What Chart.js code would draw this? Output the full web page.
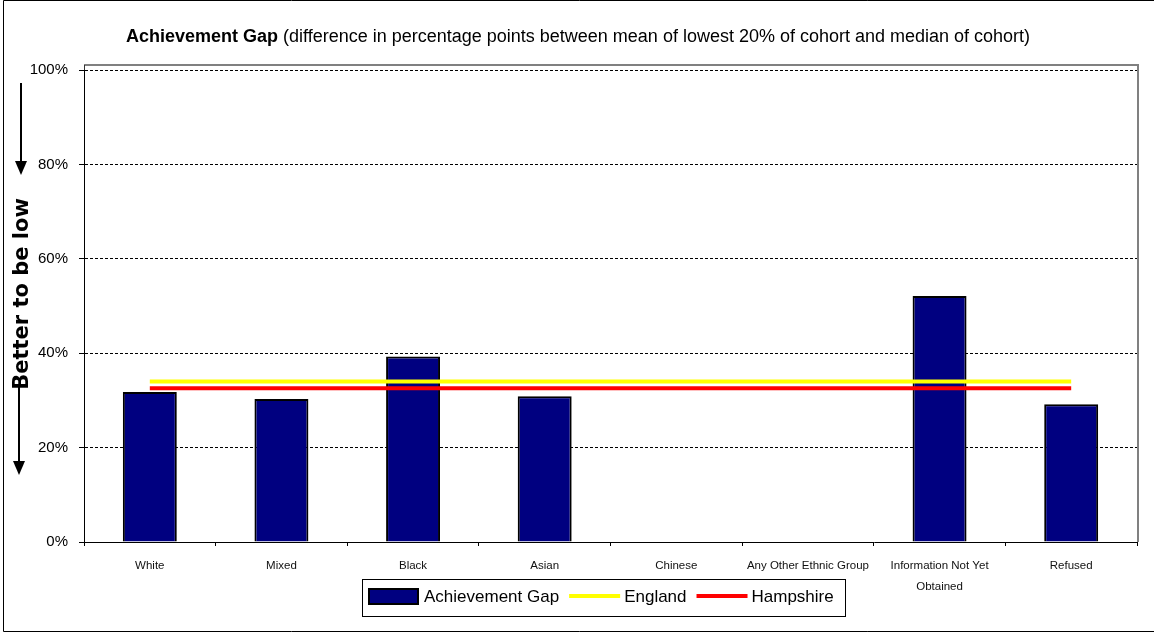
<!DOCTYPE html>
<html>
<head>
<meta charset="utf-8">
<script src="https://cdn.jsdelivr.net/npm/chart.js@4.4.1/dist/chart.umd.min.js"></script>
<style>
  body { margin: 0; background: #fff; }
</style>
</head>
<body>
<canvas id="gap" width="1154" height="634"></canvas>
<script>
// categories (x axis)
const categories = ['White', 'Mixed', 'Black', 'Asian', 'Chinese', 'Any Other Ethnic Group',
                    ['Information Not Yet', 'Obtained'], 'Refused'];
// achievement gap per group, in percentage points (null = no bar)
const gapValues = [31.8, 30.3, 39.3, 30.9, null, null, 52.1, 29.2];
// comparison lines, one value per category
const englandValues = [34.0, 34.0, 34.0, 34.0, 34.0, 34.0, 34.0, 34.0];
const hampshireValues = [32.6, 32.6, 32.6, 32.6, 32.6, 32.6, 32.6, 32.6];
const yTicks = [0, 20, 40, 60, 80, 100];

const titleBold = 'Achievement Gap';
const titleRest = ' (difference in percentage points between mean of lowest 20% of cohort and median of cohort)';
const sideLabel = 'Better to be low';

const FONT = '"Liberation Sans", Arial, sans-serif';

/* Title, side label, arrows, frame and legend box are drawn here. */
const decorations = {
    id: 'decorations',
    afterDraw(chart) {
        const ctx = chart.ctx;
        const area = chart.chartArea;
        ctx.save();

        // outer frame (right edge falls outside the picture)
        ctx.strokeStyle = '#000';
        ctx.lineWidth = 1;
        ctx.beginPath();
        ctx.moveTo(1160, 0.5);
        ctx.lineTo(3.5, 0.5);
        ctx.lineTo(3.5, 631.5);
        ctx.lineTo(1160, 631.5);
        ctx.stroke();

        // grey plot border (top + right), sits a little above the 100% line
        ctx.strokeStyle = '#808080';
        ctx.lineWidth = 2;
        ctx.beginPath();
        ctx.moveTo(area.left, area.top - 5);
        ctx.lineTo(area.right + 1, area.top - 5);
        ctx.lineTo(area.right + 1, area.bottom);
        ctx.stroke();
        ctx.strokeStyle = '#333';
        ctx.lineWidth = 1;
        ctx.beginPath();
        ctx.moveTo(area.left + 0.5, area.top - 5);
        ctx.lineTo(area.left + 0.5, area.top);
        ctx.stroke();

        // title, bold part + normal part
        ctx.fillStyle = '#000';
        ctx.textBaseline = 'alphabetic';
        ctx.textAlign = 'left';
        ctx.font = 'bold 18px ' + FONT;
        const wb = ctx.measureText(titleBold).width;
        ctx.font = '18px ' + FONT;
        const wr = ctx.measureText(titleRest).width;
        const tx = 578 - (wb + wr) / 2;
        ctx.font = 'bold 18px ' + FONT;
        ctx.fillText(titleBold, tx, 42);
        ctx.font = '18px ' + FONT;
        ctx.fillText(titleRest, tx + wb, 42);

        // side label
        ctx.save();
        ctx.translate(23, 294);
        ctx.rotate(-Math.PI / 2);
        ctx.textAlign = 'center';
        ctx.textBaseline = 'middle';
        ctx.font = 'bold 21px "DejaVu Sans", sans-serif';
        ctx.fillText(sideLabel, 0, 0);
        ctx.restore();

        // arrows
        const arrow = (x, y1, y2) => {
            ctx.strokeStyle = '#000';
            ctx.fillStyle = '#000';
            ctx.lineWidth = 2;
            ctx.beginPath();
            ctx.moveTo(x, y1);
            ctx.lineTo(x, y2 - 12);
            ctx.stroke();
            ctx.beginPath();
            ctx.moveTo(x - 6, y2 - 14);
            ctx.lineTo(x + 6, y2 - 14);
            ctx.lineTo(x, y2);
            ctx.closePath();
            ctx.fill();
        };
        arrow(21, 83, 175);
        arrow(19, 385, 475);

        // legend
        ctx.strokeStyle = '#000';
        ctx.lineWidth = 1;
        ctx.fillStyle = '#fff';
        ctx.fillRect(362.5, 579.5, 483, 37);
        ctx.strokeRect(362.5, 579.5, 483, 37);
        ctx.font = '17px ' + FONT;
        ctx.textAlign = 'left';
        ctx.textBaseline = 'middle';
        const ly = 597;
        let x = 369;
        ctx.fillStyle = '#000080';
        ctx.fillRect(x, ly - 8, 49, 15);
        ctx.lineWidth = 2;
        ctx.strokeRect(x, ly - 8, 49, 15);
        x += 55;
        ctx.fillStyle = '#000';
        ctx.fillText(chart.data.datasets[0].label, x, ly);
        x += ctx.measureText(chart.data.datasets[0].label).width + 10;
        [1, 2].forEach(i => {
            const ds = chart.data.datasets[i];
            ctx.strokeStyle = ds.borderColor;
            ctx.lineWidth = 4;
            ctx.beginPath();
            ctx.moveTo(x, ly - 1);
            ctx.lineTo(x + 51, ly - 1);
            ctx.stroke();
            x += 55;
            ctx.fillStyle = '#000';
            ctx.fillText(ds.label, x, ly);
            x += ctx.measureText(ds.label).width + 10;
        });

        ctx.restore();
    }
};

const canvas = document.getElementById('gap');
const gapChart = new Chart(canvas, {
    type: 'bar',
    data: {
        labels: categories,
        datasets: [
            {
                label: 'Achievement Gap',
                data: gapValues,
                backgroundColor: '#000080',
                borderColor: '#000',
                borderWidth: 2,
                barPercentage: 0.41,
                categoryPercentage: 1,
                grouped: false,
                order: 2
            },
            {
                type: 'line',
                label: 'England',
                data: englandValues,
                borderColor: '#FFFF00',
                borderWidth: 4,
                pointRadius: 0,
                fill: false,
                order: 1
            },
            {
                type: 'line',
                label: 'Hampshire',
                data: hampshireValues,
                borderColor: '#FF0000',
                borderWidth: 4,
                pointRadius: 0,
                fill: false,
                order: 0
            }
        ]
    },
    options: {
        responsive: false,
        animation: false,
        layout: {padding: {top: 70, right: 17, bottom: 0, left: 0}},
        plugins: {
            legend: {display: false},
            title: {display: false},
            tooltip: {enabled: false}
        },
        scales: {
            x: {
                offset: true,
                grid: {offset: true, drawOnChartArea: false, color: '#000', tickLength: 4},
                border: {color: '#000', width: 1},
                ticks: {
                    color: '#111',
                    font: {family: FONT, size: 11.5, lineHeight: 1.83},
                    maxRotation: 0,
                    autoSkip: false,
                    padding: 9
                },
                afterFit(scale) { scale.height = 92; }
            },
            y: {
                min: 0,
                max: 100,
                afterBuildTicks(scale) { scale.ticks = yTicks.map(v => ({value: v})); },
                grid: {color: '#000', lineWidth: 1, tickLength: 5, tickBorderDash: [], tickColor: '#000'},
                border: {color: '#000', width: 1, dash: [3, 2]},
                ticks: {
                    color: '#000',
                    font: {family: FONT, size: 15},
                    padding: 11,
                    callback: v => v + '%'
                },
                afterFit(scale) { scale.width = 84; }
            }
        }
    },
    plugins: [decorations]
});
</script>
</body>
</html>
